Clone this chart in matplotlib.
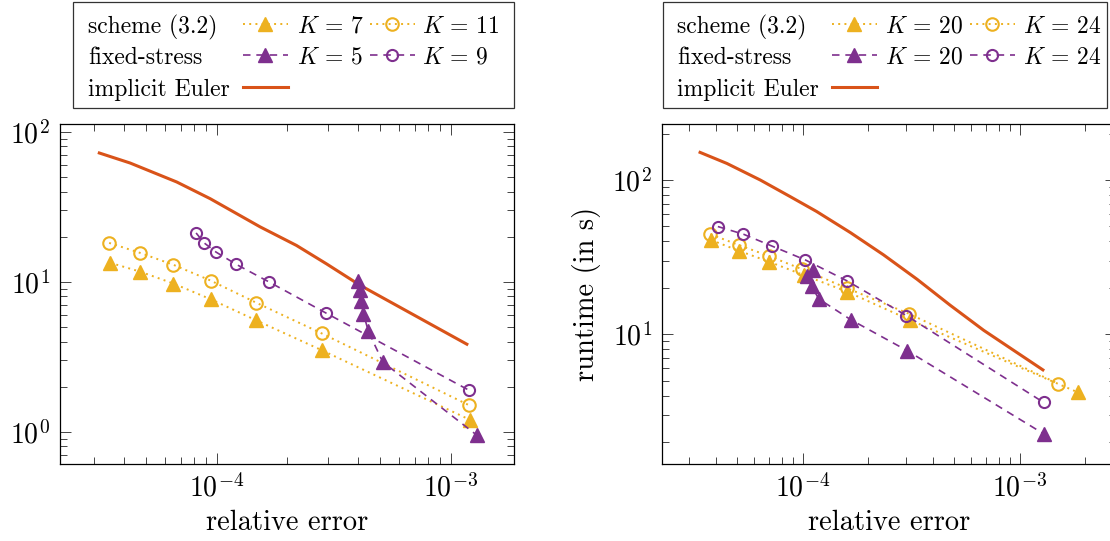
import matplotlib
matplotlib.use("Agg")
import matplotlib.pyplot as plt
from matplotlib.lines import Line2D
from matplotlib.patches import Rectangle
from matplotlib.ticker import NullFormatter

plt.rcParams["font.family"] = "serif"
plt.rcParams["font.serif"] = ["cmr10"]
plt.rcParams["mathtext.fontset"] = "cm"
plt.rcParams["axes.formatter.use_mathtext"] = True

YELLOW = "#EDB120"
PURPLE = "#7E2F8E"
ORANGE = "#D95319"

W, H = 1110, 541

# ---- left panel data ----
err_euler_l = [3.15e-5, 4.26e-5, 6.74e-5, 9.37e-5, 1.53e-4, 2.19e-4, 2.94e-4, 4.09e-4, 1.17e-3]
time_euler_l = [72.4, 62.1, 46.4, 35.9, 23.3, 17.5, 13.2, 9.5, 3.84]

err_sch_a_l = [3.51e-5, 4.71e-5, 6.53e-5, 9.42e-5, 1.47e-4, 2.81e-4, 1.21e-3]
time_sch_a_l = [13.4, 11.7, 9.75, 7.66, 5.55, 3.50, 1.20]
err_sch_b_l = [3.47e-5, 4.71e-5, 6.53e-5, 9.42e-5, 1.47e-4, 2.81e-4, 1.19e-3]
time_sch_b_l = [18.2, 15.6, 13.0, 10.2, 7.28, 4.53, 1.51]

err_fs_a_l = [4.03e-4, 4.09e-4, 4.13e-4, 4.23e-4, 4.44e-4, 5.11e-4, 1.29e-3]
time_fs_a_l = [10.2, 8.89, 7.43, 6.15, 4.69, 2.93, 0.95]
err_fs_b_l = [8.16e-5, 8.83e-5, 9.93e-5, 1.21e-4, 1.67e-4, 2.92e-4, 1.19e-3]
time_fs_b_l = [21.2, 18.2, 15.8, 13.1, 10.0, 6.21, 1.90]

k_left = [r"$K\,=\,7$", r"$K\,=\,11$", r"$K\,=\,5$", r"$K\,=\,9$"]

# ---- right panel data ----
err_euler_r = [3.37e-5, 4.48e-5, 6.38e-5, 8.77e-5, 1.16e-4, 1.66e-4, 2.36e-4, 3.37e-4, 4.79e-4, 6.83e-4, 1.28e-3]
time_euler_r = [151, 128, 100, 78.0, 62.5, 45.6, 32.7, 22.7, 15.4, 10.6, 5.87]

err_sch_a_r = [3.79e-5, 5.07e-5, 6.97e-5, 1.01e-4, 1.60e-4, 3.11e-4, 1.86e-3]
time_sch_a_r = [40.8, 34.8, 29.6, 24.2, 18.9, 12.4, 4.19]
err_sch_b_r = [3.76e-5, 5.07e-5, 6.97e-5, 9.93e-5, 1.60e-4, 3.08e-4, 1.51e-3]
time_sch_b_r = [44.5, 37.9, 32.2, 26.4, 19.9, 13.6, 4.77]

err_fs_a_r = [1.12e-4, 1.05e-4, 1.10e-4, 1.19e-4, 1.67e-4, 3.03e-4, 1.29e-3]
time_fs_a_r = [25.9, 23.7, 20.4, 16.9, 12.4, 7.83, 2.26]
err_fs_b_r = [4.07e-5, 5.34e-5, 7.22e-5, 1.03e-4, 1.60e-4, 3.01e-4, 1.29e-3]
time_fs_b_r = [49.9, 44.5, 37.3, 30.3, 22.2, 13.2, 3.61]

k_right = [r"$K\,=\,20$", r"$K\,=\,24$", r"$K\,=\,20$", r"$K\,=\,24$"]

# line styles (shared by plot and legend)
sty_sch_a = dict(color=YELLOW, ls=(0, (1, 2.2)), lw=1.4, marker="^", ms=10.5, mfc=YELLOW, mec=YELLOW)
sty_sch_b = dict(color=YELLOW, ls=(0, (1, 2.2)), lw=1.4, marker="o", ms=9, mfc="none", mec=YELLOW, mew=1.5)
sty_fs_a = dict(color=PURPLE, ls=(0, (4.5, 3.5)), lw=1.2, marker="^", ms=10.5, mfc=PURPLE, mec=PURPLE)
sty_fs_b = dict(color=PURPLE, ls=(0, (4.5, 3.5)), lw=1.2, marker="o", ms=8, mfc="none", mec=PURPLE, mew=1.5)
sty_euler = dict(color=ORANGE, ls="-", lw=2.2)


def fx(x):
    return x / W


def fy(y):
    return 1 - y / H


def setup_axes(ax, xlim, ylim):
    ax.set_xscale("log")
    ax.set_yscale("log")
    ax.set_xlim(*xlim)
    ax.set_ylim(*ylim)
    ax.tick_params(which="both", direction="in", top=True, right=True,
                   color="#444444", width=0.7, labelsize=20)
    ax.tick_params(which="major", length=8, pad=7)
    ax.tick_params(which="minor", length=5)
    ax.xaxis.set_minor_formatter(NullFormatter())
    ax.yaxis.set_minor_formatter(NullFormatter())
    for s in ax.spines.values():
        s.set_linewidth(0.9)
    ax.set_xlabel("relative error", fontsize=20.5, labelpad=5)


def draw_legend(fig, x0, x1, labels, offs):
    # offs: text, handle1, k1 text, handle2, k2 text (px from box left)
    fig.add_artist(Rectangle((fx(x0), fy(108)), fx(x1 - x0), 106 / H,
                             transform=fig.transFigure, fill=False, ec="#333333", lw=0.9))
    rows = [24, 55, 87]
    names = ["scheme (3.2)", "fixed-stress", "implicit Euler"]
    for r, name in zip(rows, names):
        fig.text(fx(x0 + offs[0]), fy(r), name, fontsize=17, ha="left", va="center_baseline")
    pairs = [(sty_sch_a, sty_sch_b), (sty_fs_a, sty_fs_b)]
    for i, (s1, s2) in enumerate(pairs):
        y = fy(rows[i])
        for j, s in enumerate((s1, s2)):
            hx = x0 + offs[1 + 2 * j]
            ln = Line2D([fx(hx), fx(hx + 22), fx(hx + 45)], [y, y, y],
                        transform=fig.transFigure, markevery=[1], **s)
            fig.add_artist(ln)
            fig.text(fx(x0 + offs[2 + 2 * j]), y, labels[2 * i + j], fontsize=17,
                     ha="left", va="center_baseline")
    y = fy(rows[2])
    hx = x0 + offs[1]
    fig.add_artist(Line2D([fx(hx), fx(hx + 45)], [y, y], transform=fig.transFigure, **sty_euler))


fig = plt.figure(figsize=(W / 100, H / 100), dpi=100)

# left panel
ax1 = fig.add_axes([fx(60), fy(464), 454 / W, 340 / H])
ax1.plot(err_euler_l, time_euler_l, **sty_euler)
ax1.plot(err_sch_a_l, time_sch_a_l, **sty_sch_a)
ax1.plot(err_sch_b_l, time_sch_b_l, **sty_sch_b)
ax1.plot(err_fs_a_l, time_fs_a_l, **sty_fs_a)
ax1.plot(err_fs_b_l, time_fs_b_l, **sty_fs_b)
setup_axes(ax1, (2.14e-5, 1.86e-3), (0.61, 113))

# right panel
ax2 = fig.add_axes([fx(662), fy(464), 454 / W, 340 / H])
ax2.plot(err_euler_r, time_euler_r, **sty_euler)
ax2.plot(err_sch_a_r, time_sch_a_r, **sty_sch_a)
ax2.plot(err_sch_b_r, time_sch_b_r, **sty_sch_b)
ax2.plot(err_fs_a_r, time_fs_a_r, **sty_fs_a)
ax2.plot(err_fs_b_r, time_fs_b_r, **sty_fs_b)
setup_axes(ax2, (2.25e-5, 2.78e-3), (1.44, 230.7))
ax2.set_ylabel("runtime (in s)", fontsize=20.5, labelpad=8)

draw_legend(fig, 73, 514, k_left, [15, 170, 224, 297, 349])
draw_legend(fig, 663, 1107, k_right, [14, 169, 222, 307, 360])

fig.savefig("out.png", dpi=100)
